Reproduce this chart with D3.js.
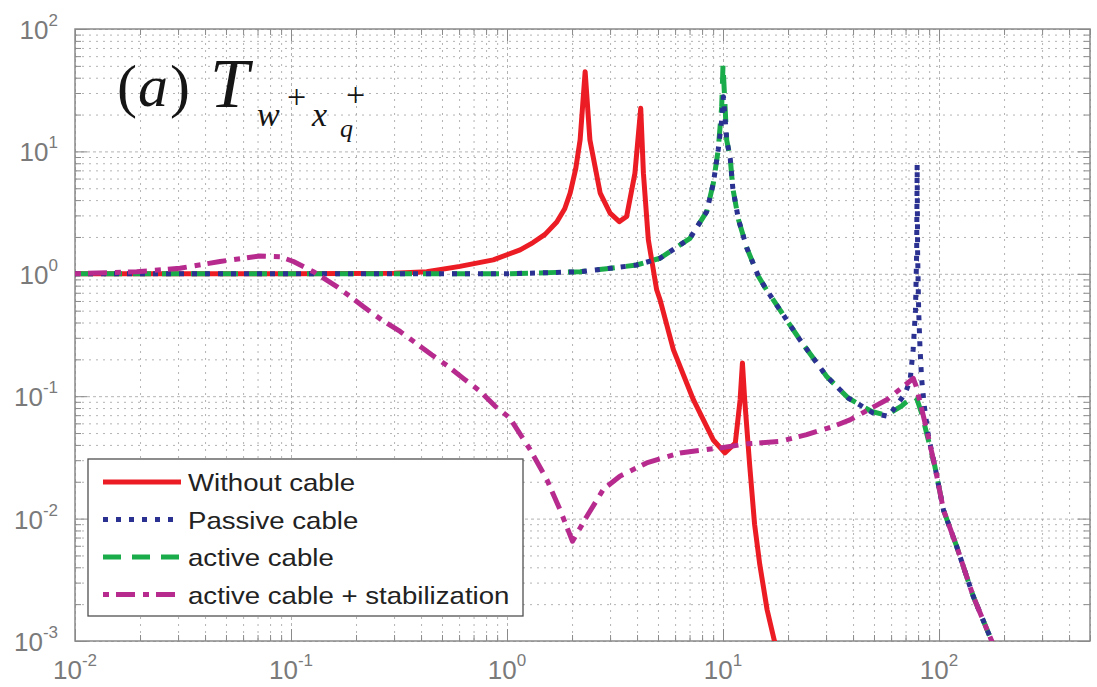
<!DOCTYPE html>
<html>
<head>
<meta charset="utf-8">
<script src="https://cdn.jsdelivr.net/npm/d3@7"></script>
<style>
body { margin: 0; background: #fff; }
svg { display: block; }
</style>
</head>
<body>
<svg id="chart" width="1097" height="687"></svg>
<script>
// values, [frequency, magnitude]
let without_cable = [
  [0.01, 1], [0.1, 1], [0.3, 1.01], [0.425, 1.04], [0.605, 1.15], [0.864, 1.3],
  [1.15, 1.57], [1.32, 1.8], [1.5, 2.1], [1.7, 2.65], [1.85, 3.4], [1.96, 4.56],
  [2.08, 7.2], [2.18, 12.4], [2.3, 44.8], [2.42, 12.4], [2.7, 4.56], [3.0, 3.13],
  [3.31, 2.67], [3.58, 2.94], [3.91, 6.64], [4.16, 22.5], [4.28, 6.64], [4.51, 1.9],
  [4.93, 0.74], [5.11, 0.614], [5.89, 0.24], [7.29, 0.0936], [9.0, 0.0441],
  [10.2, 0.0344], [11.4, 0.0415], [12.0, 0.0936], [12.3, 0.187], [12.6, 0.0936],
  [13.3, 0.0267], [14.0, 0.009], [14.8, 0.0042], [16, 0.0018], [17.3, 0.001],
  [18.5, 0.0007]
];

let passive_cable = [
  [0.01, 1], [1, 1], [2.18, 1.04], [2.89, 1.1], [3.98, 1.18], [5.11, 1.34],
  [7.03, 1.95], [8.4, 3.22], [9.02, 5.5], [9.5, 10.3], [9.86, 18], [10.05, 28],
  [10.4, 12.4], [10.8, 8.8], [11.1, 5.0], [11.8, 2.76], [12.9, 1.62], [14.6, 0.95],
  [15.9, 0.74], [22.7, 0.289], [30.2, 0.145], [38, 0.0966], [49.6, 0.0728],
  [58.3, 0.0683], [69.7, 0.105], [73.5, 0.136], [75.9, 0.24], [77.8, 0.5],
  [78.8, 1.5], [79.2, 7.8], [79.6, 1.5], [80.5, 0.5], [81.6, 0.255], [83, 0.141],
  [85.5, 0.083], [89.3, 0.047], [95.7, 0.0267], [104.8, 0.0118], [120.8, 0.0059],
  [144, 0.00232], [169, 0.00117], [180, 0.0009]
];

let active_cable = [
  [0.01, 1], [1, 1], [2.18, 1.04], [2.89, 1.1], [3.98, 1.18], [5.11, 1.34],
  [7.03, 1.95], [8.4, 3.22], [9.02, 5.5], [9.5, 10.3], [9.86, 23.2], [10.0, 50.8],
  [10.4, 12.4], [10.8, 8.8], [11.1, 5.0], [11.8, 2.76], [12.9, 1.62], [14.6, 0.95],
  [15.9, 0.74], [22.7, 0.289], [30.2, 0.145], [38, 0.0966], [48.8, 0.075],
  [57, 0.07], [67, 0.083], [76, 0.1], [79, 0.095], [83, 0.073], [87.6, 0.05],
  [95.7, 0.0267], [104.8, 0.0118], [120.8, 0.0059], [144, 0.00232], [169, 0.00117],
  [180, 0.0009]
];

let active_stab = [
  [0.01, 1.0], [0.0193, 1.04], [0.0306, 1.11], [0.0469, 1.26], [0.0718, 1.4],
  [0.0889, 1.38], [0.1026, 1.26], [0.127, 1.04], [0.163, 0.787], [0.216, 0.54],
  [0.263, 0.42], [0.32, 0.338], [0.448, 0.218], [0.535, 0.175], [0.64, 0.136],
  [0.75, 0.11], [0.88, 0.083], [1.03, 0.0664], [1.28, 0.0366], [1.53, 0.0208],
  [1.76, 0.0118], [2.01, 0.00653], [2.34, 0.0104], [2.79, 0.0173], [3.33, 0.0222],
  [4.43, 0.0285], [6.32, 0.0344], [9.69, 0.0378], [12.9, 0.0408], [18.4, 0.0428],
  [24.4, 0.0485], [32.4, 0.0567], [38.7, 0.064], [57.3, 0.0936], [67.2, 0.117],
  [76, 0.14], [78.5, 0.12], [85.5, 0.064], [89.3, 0.046], [95.7, 0.0267],
  [104.8, 0.0118], [120.8, 0.0059], [144, 0.00232], [169, 0.00117], [180, 0.0009]
];

let x_decades = [1e-2, 1e-1, 1e0, 1e1, 1e2];
let x_exponents = ['-2', '-1', '0', '1', '2'];
let y_decades = [1e-3, 1e-2, 1e-1, 1e0, 1e1, 1e2];
let y_exponents = ['-3', '-2', '-1', '0', '1', '2'];
let legend_labels = ['Without cable', 'Passive cable', 'active cable', 'active cable + stabilization'];

let width = 1097, height = 687;
let margin = {left: 75, top: 29, right: 7, bottom: 46};
let plot_w = width - margin.left - margin.right;
let plot_h = height - margin.top - margin.bottom;
let axis_color = '#8a8a8a';
let grid_color = '#a0a0a0';

// series styles, in legend order
let series = [
  {data: without_cable, color: '#ec1c24', dash: null},
  {data: passive_cable, color: '#2b3190', dash: '5,8'},
  {data: active_cable, color: '#1aab4b', dash: '18,11'},
  {data: active_stab, color: '#b72a8e', dash: '6,7,19,8'}
];

let x = d3.scaleLog()
  .domain([1e-2, 500])
  .range([margin.left, margin.left + plot_w]);
let y = d3.scaleLog()
  .domain([1e-3, 1e2])
  .range([margin.top + plot_h, margin.top]);

// minor positions 2..9 inside each decade
let x_minor = [];
x_decades.forEach(d => d3.range(2, 10).forEach(k => { if (d * k <= 500) x_minor.push(d * k); }));
let y_minor = [];
y_decades.slice(0, -1).forEach(d => d3.range(2, 10).forEach(k => y_minor.push(d * k)));

let svg = d3.select('#chart');

// grid
function grid(xv, yv, dash) {
  let gx = svg.append('g')
    .attr('transform', `translate(0,${margin.top})`)
    .call(d3.axisTop(x).tickValues(xv).tickSize(-plot_h).tickFormat(''));
  let gy = svg.append('g')
    .attr('transform', `translate(${margin.left},0)`)
    .call(d3.axisLeft(y).tickValues(yv).tickSize(-plot_w).tickFormat(''));
  [gx, gy].forEach(g => {
    g.select('.domain').remove();
    g.selectAll('line')
      .attr('stroke', grid_color)
      .attr('stroke-width', 0.8)
      .attr('stroke-dasharray', dash);
  });
}
grid(x_minor, y_minor, '2,5');
grid(x_decades, y_decades, '3,3');

// tick marks on all four sides
function ticks(axis_fn, pos, values, size) {
  let g = svg.append('g')
    .attr('transform', pos)
    .call(axis_fn.tickValues(values).tickSize(-size).tickFormat(''));
  g.select('.domain').remove();
  g.selectAll('line').attr('stroke', axis_color).attr('stroke-width', 1);
  return g;
}
let bottom_pos = `translate(0,${margin.top + plot_h})`;
let left_pos = `translate(${margin.left},0)`;
ticks(d3.axisBottom(x), bottom_pos, x_minor, 6);
ticks(d3.axisBottom(x), bottom_pos, x_decades, 12);
ticks(d3.axisTop(x), `translate(0,${margin.top})`, x_minor, 6);
ticks(d3.axisTop(x), `translate(0,${margin.top})`, x_decades, 12);
ticks(d3.axisLeft(y), left_pos, y_minor, 6);
ticks(d3.axisLeft(y), left_pos, y_decades, 12);
ticks(d3.axisRight(y), `translate(${margin.left + plot_w},0)`, y_minor, 6);
ticks(d3.axisRight(y), `translate(${margin.left + plot_w},0)`, y_decades, 12);

// decade labels, 10 with superscript
svg.append('g').selectAll('text')
  .data(x_decades)
  .enter().append('text')
  .attr('x', d => x(d))
  .attr('y', margin.top + plot_h + 38)
  .attr('text-anchor', 'middle')
  .style('font-family', 'Liberation Sans, Arial, sans-serif')
  .style('fill', '#7a7a7a')
  .each(function(d, i) {
    let t = d3.select(this);
    t.append('tspan').style('font-size', '26px').text('10');
    t.append('tspan').style('font-size', '17px').attr('dy', -13).text(x_exponents[i]);
  });

svg.append('g').selectAll('text')
  .data(y_decades)
  .enter().append('text')
  .attr('x', 58)
  .attr('y', d => y(d) + 10)
  .attr('text-anchor', 'end')
  .style('font-family', 'Liberation Sans, Arial, sans-serif')
  .style('fill', '#7a7a7a')
  .each(function(d, i) {
    let t = d3.select(this);
    t.append('tspan').style('font-size', '26px').text('10');
    t.append('tspan').style('font-size', '17px').attr('dy', -13).text(y_exponents[i]);
  });

// frame
svg.append('rect')
  .attr('x', margin.left)
  .attr('y', margin.top)
  .attr('width', plot_w)
  .attr('height', plot_h)
  .attr('fill', 'none')
  .attr('stroke', axis_color)
  .attr('stroke-width', 1.5);

// curves
svg.append('defs').append('clipPath')
  .attr('id', 'plot-clip')
  .append('rect')
  .attr('x', margin.left)
  .attr('y', margin.top)
  .attr('width', plot_w)
  .attr('height', plot_h);

let line = d3.line()
  .x(d => x(d[0]))
  .y(d => y(d[1]));

let curves = svg.append('g').attr('clip-path', 'url(#plot-clip)');
// drawing order: red, green, blue, magenta
[0, 2, 1, 3].forEach(i => {
  curves.append('path')
    .datum(series[i].data)
    .attr('d', line)
    .attr('fill', 'none')
    .attr('stroke', series[i].color)
    .attr('stroke-width', 5)
    .attr('stroke-linejoin', 'round')
    .attr('stroke-dasharray', series[i].dash);
});

// title (a) T_{w+ x_q+}
let title = svg.append('g')
  .style('font-family', 'Liberation Serif, Times New Roman, serif')
  .style('fill', '#151515');
let title_parts = [
  {t: '(', x: 117, y: 106, s: 60, it: false},
  {t: 'a', x: 138, y: 106, s: 60, it: true},
  {t: ')', x: 170, y: 106, s: 60, it: false},
  {t: 'T', x: 210, y: 107, s: 70, it: true},
  {t: 'w', x: 257, y: 126, s: 34, it: true},
  {t: '+', x: 287, y: 108, s: 34, it: false},
  {t: 'x', x: 312, y: 126, s: 34, it: true},
  {t: '+', x: 346, y: 106, s: 34, it: false},
  {t: 'q', x: 340, y: 137, s: 26, it: true}
];
title.selectAll('text')
  .data(title_parts)
  .enter().append('text')
  .attr('x', d => d.x)
  .attr('y', d => d.y)
  .style('font-size', d => `${d.s}px`)
  .style('font-style', d => d.it ? 'italic' : 'normal')
  .text(d => d.t);

// legend
let legend = svg.append('g');
legend.append('rect')
  .attr('x', 88)
  .attr('y', 459)
  .attr('width', 435)
  .attr('height', 157)
  .attr('fill', '#fff')
  .attr('stroke', '#505050')
  .attr('stroke-width', 1.3);

let rows = legend.selectAll('.legend-row')
  .data(series)
  .enter().append('g')
  .attr('class', 'legend-row')
  .attr('transform', (d, i) => `translate(0,${482 + i * 37.5})`);
rows.append('line')
  .attr('x1', 103)
  .attr('x2', 181)
  .attr('stroke', d => d.color)
  .attr('stroke-width', 5)
  .attr('stroke-dasharray', d => d.dash);
// the original legend font runs wider than Liberation Sans
rows.append('text')
  .attr('transform', 'translate(188,9) scale(1.15,1)')
  .style('font-family', 'Liberation Sans, Arial, sans-serif')
  .style('font-size', '24px')
  .style('fill', '#222')
  .text((d, i) => legend_labels[i]);
</script>
</body>
</html>
